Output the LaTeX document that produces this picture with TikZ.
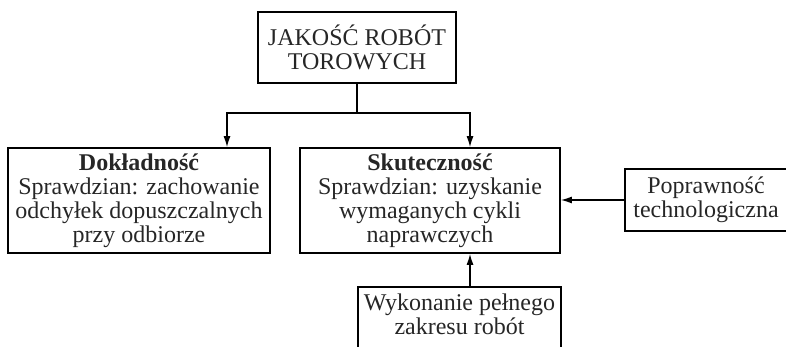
\documentclass[tikz,border=0pt]{standalone}
\usepackage{fontspec}
\setmainfont{Liberation Serif}
\usetikzlibrary{arrows.meta}
\begin{document}
\begin{tikzpicture}[x=1pt,y=-1pt,
  box/.style={draw,line width=1.8pt,align=center,inner sep=0pt,
    font=\fontsize{24}{24}\selectfont,text=black!85},
  conn/.style={line width=1.2pt,-{Latex[length=11pt,width=7pt]}},
  plain/.style={line width=1.2pt}]
\useasboundingbox (0,0) rectangle (786,347);
\clip (0,0) rectangle (786,347);
\node[box,minimum width=198pt,minimum height=71pt] (top) at (357,47.5) {JAKOŚĆ ROBÓT\\TOROWYCH};
\node[box,minimum width=262pt,minimum height=105pt] (left) at (139,200.5) {\textbf{Dokładność}\\Sprawdzian: zachowanie\\odchyłek dopuszczalnych\\przy odbiorze};
\node[box,minimum width=260pt,minimum height=105pt] (mid) at (430,200.5) {\textbf{Skuteczność}\\Sprawdzian: uzyskanie\\wymaganych cykli\\naprawczych};
\node[box,minimum width=162pt,minimum height=62pt] (pop) at (706,200) {Poprawność\\technologiczna};
\node[box,anchor=north,inner ysep=7pt,text depth=40pt,minimum width=203pt] (wyk) at (459.5,286) {Wykonanie pełnego\\zakresu robót};
\coordinate (split) at (357,113);
\coordinate (lx) at (227,113);
\coordinate (rx) at (470,113);
\draw[plain] (top.south) -- (split);
\draw[conn] (split) -- (lx) -- (lx |- left.north);
\draw[conn] (split) -- (rx) -- (rx |- mid.north);
\draw[conn] (pop.west) -- (mid.east |- pop.west);
\draw[conn] (rx |- wyk.north) -- (rx |- mid.south);
\end{tikzpicture}
\end{document}
